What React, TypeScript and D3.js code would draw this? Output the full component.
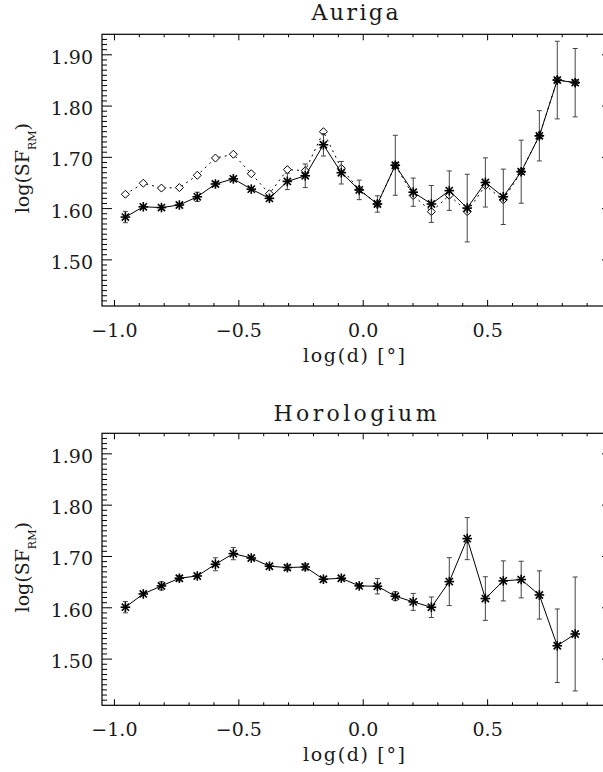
import React from "react";
import * as d3 from "d3";

const LOG_D = [
  -0.956, -0.884, -0.811, -0.739, -0.667, -0.594, -0.522, -0.45, -0.377, -0.305,
  -0.233, -0.16, -0.088, -0.016, 0.057, 0.129, 0.201, 0.274, 0.346, 0.418,
  0.491, 0.563, 0.635, 0.708, 0.78, 0.852,
];

const AURIGA_SF = [
  1.5835, 1.6035, 1.602, 1.607, 1.623, 1.648, 1.658, 1.638, 1.62, 1.653,
  1.664, 1.7245, 1.67, 1.6365, 1.609, 1.6845, 1.632, 1.609, 1.635, 1.601,
  1.651, 1.623, 1.672, 1.742, 1.8507, 1.8456,
];
const AURIGA_ERR = [
  0.011, 0.003, 0.004, 0.003, 0.009, 0.004, 0.004, 0.003, 0.004, 0.016,
  0.023, 0.022, 0.022, 0.019, 0.016, 0.0585, 0.0275, 0.036, 0.0385, 0.066,
  0.048, 0.054, 0.0615, 0.049, 0.0757, 0.0667,
];
const AURIGA_ALT = [
  1.628, 1.6495, 1.64, 1.641, 1.665, 1.6986, 1.706, 1.668, 1.629, 1.676,
  1.674, 1.75, 1.6786, 1.637, 1.609, 1.6845, 1.6255, 1.594, 1.626, 1.594,
  1.645, 1.617, 1.672, 1.742, 1.851, 1.846,
];

const HORO_SF = [
  1.6012, 1.627, 1.6426, 1.6576, 1.662, 1.6848, 1.7056, 1.697, 1.681, 1.6784,
  1.6796, 1.6556, 1.6576, 1.6426, 1.642, 1.6226, 1.6115, 1.601, 1.651, 1.7348,
  1.618, 1.6524, 1.655, 1.625, 1.526, 1.549,
];
const HORO_ERR = [
  0.011, 0.003, 0.008, 0.005, 0.003, 0.0126, 0.012, 0.003, 0.003, 0.005,
  0.006, 0.004, 0.003, 0.004, 0.015, 0.0088, 0.0165, 0.02, 0.0467, 0.041,
  0.0425, 0.039, 0.0357, 0.047, 0.0717, 0.111,
];

const X_TICKS = [-1.0, -0.5, 0.0, 0.5];
const X_TICK_LABELS = ["\u22121.0", "\u22120.5", "0.0", "0.5"];
const Y_TICKS = [1.5, 1.6, 1.7, 1.8, 1.9];
const Y_TICK_LABELS = ["1.50", "1.60", "1.70", "1.80", "1.90"];

const FONT = "'DejaVu Serif', serif";
const TEXT_FILL = "#1a1a1a";

type PanelProps = {
  title: string;
  titleLen: number;
  titleY: number;
  top: number;
  bottom: number;
  main: number[];
  err: number[];
  alt?: number[];
};

const LEFT = 102;
const RIGHT = 612;

function Star({ cx, cy }: { cx: number; cy: number }) {
  const r = 4.8;
  const d = r * 0.75;
  return (
    <g stroke="#000" strokeWidth={1.6}>
      <line x1={cx - r} y1={cy} x2={cx + r} y2={cy} />
      <line x1={cx} y1={cy - r} x2={cx} y2={cy + r} />
      <line x1={cx - d} y1={cy - d} x2={cx + d} y2={cy + d} />
      <line x1={cx - d} y1={cy + d} x2={cx + d} y2={cy - d} />
    </g>
  );
}

function Panel({ title, titleLen, titleY, top, bottom, main, err, alt }: PanelProps) {
  const x = d3.scaleLinear().domain([-1.05, 1.0]).range([LEFT, RIGHT]);
  const y = d3.scaleLinear().domain([1.41, 1.94]).range([bottom, top]);
  const line = d3
    .line<number>()
    .x((_, i) => x(LOG_D[i]))
    .y((v) => y(v));

  const minorY = d3.range(142, 194).map((v) => v / 100);
  const minorX = d3.range(-10, 10).map((v) => v / 10);

  return (
    <g>
      <text
        x={355}
        y={titleY}
        textAnchor="middle"
        fontFamily={FONT}
        fontSize={22}
        fill={TEXT_FILL}
        textLength={titleLen}
        lengthAdjust="spacing"
      >
        {title}
      </text>
      <rect x={LEFT} y={top} width={RIGHT - LEFT} height={bottom - top} fill="none" stroke="#000" strokeWidth={1.2} />
      {minorY.map((v, i) => {
        const isMajor = Math.abs(v * 10 - Math.round(v * 10)) < 1e-6;
        const len = isMajor ? 10 : 5;
        return (
          <g key={"y" + i} stroke="#000" strokeWidth={1}>
            <line x1={LEFT} x2={LEFT + len} y1={y(v)} y2={y(v)} />
            <line x1={RIGHT} x2={RIGHT - len} y1={y(v)} y2={y(v)} />
          </g>
        );
      })}
      {minorX.map((v, i) => {
        const isMajor = Math.abs(v * 2 - Math.round(v * 2)) < 1e-6;
        const len = isMajor ? 6 : 3;
        return (
          <g key={"x" + i} stroke="#000" strokeWidth={1}>
            <line x1={x(v)} x2={x(v)} y1={bottom} y2={bottom - len} />
            <line x1={x(v)} x2={x(v)} y1={top} y2={top + len} />
          </g>
        );
      })}
      {Y_TICKS.map((v, i) => (
        <text key={"yl" + i} x={93} y={y(v) + 9} textAnchor="end" fontFamily={FONT} fontSize={19} fill={TEXT_FILL}>
          {Y_TICK_LABELS[i]}
        </text>
      ))}
      {X_TICKS.map((v, i) => (
        <text key={"xl" + i} x={x(v)} y={bottom + 31} textAnchor="middle" fontFamily={FONT} fontSize={19} fill={TEXT_FILL}>
          {X_TICK_LABELS[i]}
        </text>
      ))}
      <text
        x={354}
        y={bottom + 56}
        textAnchor="middle"
        fontFamily={FONT}
        fontSize={19}
        fill={TEXT_FILL}
        textLength={102}
        lengthAdjust="spacing"
      >
        log(d)  [°]
      </text>
      <text
        transform={`translate(28.5,${(top + bottom) / 2 - 2}) rotate(-90)`}
        textAnchor="middle"
        fontFamily={FONT}
        fontSize={19}
        fill={TEXT_FILL}
      >
        log(SF
        <tspan fontSize={11} dy={7}>RM</tspan>
        <tspan dy={-7}>)</tspan>
      </text>
      {alt && (
        <g>
          <path d={line(alt) || ""} fill="none" stroke="#000" strokeWidth={1} strokeDasharray="2,4" />
          {alt.map((v, i) => {
            const px = x(LOG_D[i]);
            const py = y(v);
            const r = 4;
            return (
              <path
                key={"d" + i}
                d={`M${px},${py - r}L${px + r},${py}L${px},${py + r}L${px - r},${py}Z`}
                fill="#fff"
                stroke="#000"
                strokeWidth={1}
              />
            );
          })}
        </g>
      )}
      {main.map((v, i) => {
        const px = x(LOG_D[i]);
        const y1 = y(v - err[i]);
        const y2 = y(v + err[i]);
        return (
          <g key={"e" + i} stroke="#444" strokeWidth={1}>
            <line x1={px} x2={px} y1={y1} y2={y2} />
            <line x1={px - 2.5} x2={px + 2.5} y1={y1} y2={y1} />
            <line x1={px - 2.5} x2={px + 2.5} y1={y2} y2={y2} />
          </g>
        );
      })}
      <path d={line(main) || ""} fill="none" stroke="#000" strokeWidth={1} />
      {main.map((v, i) => (
        <Star key={"s" + i} cx={x(LOG_D[i])} cy={y(v)} />
      ))}
    </g>
  );
}

export default function App() {
  return (
    <svg
      width={603}
      height={772}
      style={{ position: "absolute", left: 0, top: 0, background: "#fff" }}
    >
      <rect width={603} height={772} fill="#fff" />
      <Panel
        title="Auriga"
        titleLen={87}
        titleY={20}
        top={34.3}
        bottom={306}
        main={AURIGA_SF}
        err={AURIGA_ERR}
        alt={AURIGA_ALT}
      />
      <Panel
        title="Horologium"
        titleLen={163}
        titleY={421}
        top={433.3}
        bottom={705.3}
        main={HORO_SF}
        err={HORO_ERR}
      />
    </svg>
  );
}
